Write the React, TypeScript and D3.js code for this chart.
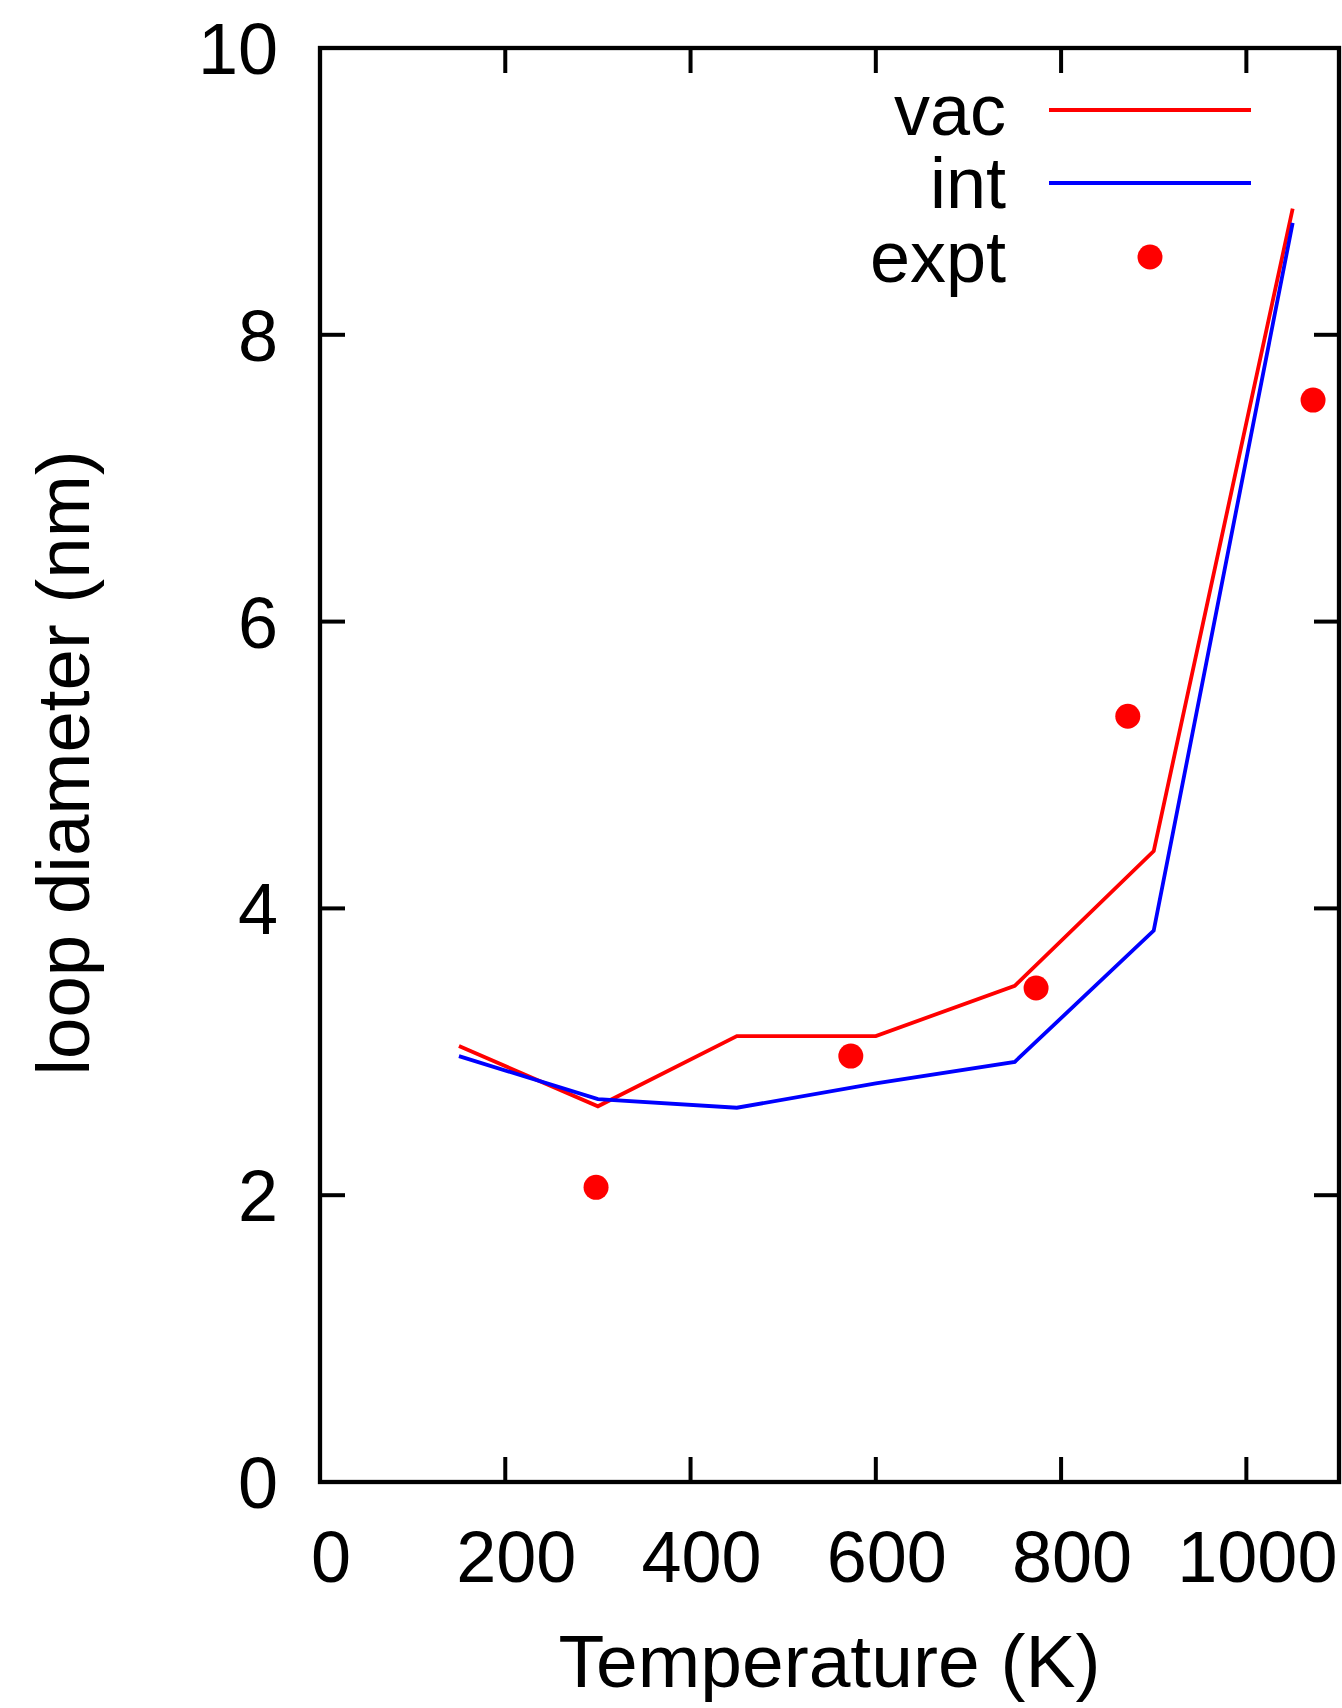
import React from "react";
import * as d3 from "d3";

const temperatures = [150, 300, 450, 600, 750, 900, 1050];
const vacValues = [3.04, 2.62, 3.11, 3.11, 3.46, 4.40, 8.88];
const intValues = [2.97, 2.67, 2.61, 2.78, 2.93, 3.845, 8.78];
const exptTemps = [298, 573, 773, 872, 1072];
const exptValues = [2.055, 2.97, 3.445, 5.34, 7.545];
const xTicks = [0, 200, 400, 600, 800, 1000];
const yTicks = [0, 2, 4, 6, 8, 10];
const legendLabels = ["vac", "int", "expt"];

const W = 1342;
const H = 1708;
const left = 320;
const right = 1339;
const top = 48;
const bottom = 1482;
const FONT = "'Liberation Sans', Arial, Helvetica, sans-serif";

export default function App() {
  const x = d3.scaleLinear().domain([0, 1100]).range([left, right]);
  const y = d3.scaleLinear().domain([0, 10]).range([bottom, top]);
  const line = d3
    .line<[number, number]>()
    .x((d) => x(d[0]))
    .y((d) => y(d[1]));
  const vacPath = line(temperatures.map((t, i) => [t, vacValues[i]]) as [number, number][]) || "";
  const intPath = line(temperatures.map((t, i) => [t, intValues[i]]) as [number, number][]) || "";
  const tickLen = 25;
  const legendRows = [110, 183, 257];

  return (
    <svg
      width={W}
      height={H}
      viewBox={`0 0 ${W} ${H}`}
      style={{ position: "absolute", left: 0, top: 0, background: "#fff" }}
      fontFamily={FONT}
    >
      <rect x={0} y={0} width={W} height={H} fill="#fff" />
      {/* ticks */}
      {xTicks.map((t) => (
        <g key={"xt" + t}>
          <line x1={x(t)} x2={x(t)} y1={bottom} y2={bottom - tickLen} stroke="#000" strokeWidth={4} />
          <line x1={x(t)} x2={x(t)} y1={top} y2={top + tickLen} stroke="#000" strokeWidth={4} />
          <text x={x(t) + 11} y={1582} fontSize={72} textAnchor="middle" fill="#000">
            {t}
          </text>
        </g>
      ))}
      {yTicks.map((v) => (
        <g key={"yt" + v}>
          <line x1={left} x2={left + tickLen} y1={y(v)} y2={y(v)} stroke="#000" strokeWidth={4} />
          <line x1={right} x2={right - tickLen} y1={y(v)} y2={y(v)} stroke="#000" strokeWidth={4} />
          <text x={278} y={y(v) + 26} fontSize={72} textAnchor="end" fill="#000">
            {v}
          </text>
        </g>
      ))}
      {/* data */}
      <path d={vacPath} fill="none" stroke="#ff0000" strokeWidth={3.8} strokeLinejoin="miter" />
      <path d={intPath} fill="none" stroke="#0000ff" strokeWidth={3.8} strokeLinejoin="miter" />
      {exptTemps.map((t, i) => (
        <circle key={"e" + i} cx={x(t)} cy={y(exptValues[i])} r={12.5} fill="#ff0000" />
      ))}
      {/* legend */}
      {legendLabels.map((lab, i) => (
        <text key={lab} x={1006} y={legendRows[i] + 25} fontSize={72} textAnchor="end" fill="#000">
          {lab}
        </text>
      ))}
      <line x1={1049} x2={1251} y1={legendRows[0]} y2={legendRows[0]} stroke="#ff0000" strokeWidth={3.8} />
      <line x1={1049} x2={1251} y1={legendRows[1]} y2={legendRows[1]} stroke="#0000ff" strokeWidth={3.8} />
      <circle cx={1150} cy={legendRows[2]} r={12.5} fill="#ff0000" />
      {/* frame */}
      <rect x={left} y={top} width={right - left} height={bottom - top} fill="none" stroke="#000" strokeWidth={4.3} />
      {/* axis titles */}
      <text x={(left + right) / 2} y={1687} fontSize={75} textAnchor="middle" fill="#000">
        Temperature (K)
      </text>
      <text
        transform={`translate(89, ${(top + bottom) / 2 - 2}) rotate(-90)`}
        fontSize={74.5}
        textAnchor="middle"
        fill="#000"
      >
        loop diameter (nm)
      </text>
    </svg>
  );
}
